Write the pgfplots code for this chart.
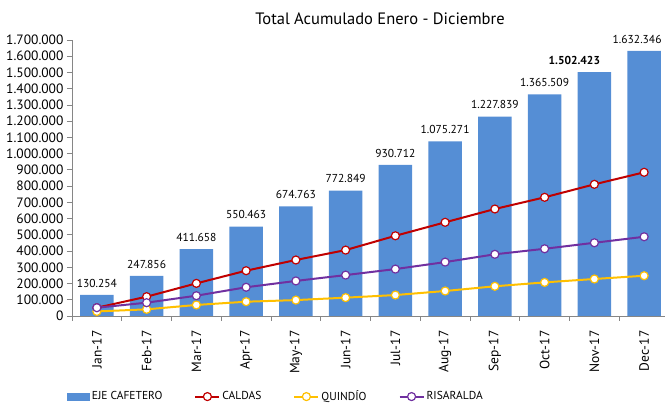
\documentclass[border=0pt]{standalone}
\usepackage{pgfplots}
\pgfplotsset{compat=1.18}
\usepackage{fontspec}
\setmainfont{PT Sans}
\definecolor{barblue}{RGB}{85,142,213}
\definecolor{caldas}{RGB}{192,0,0}
\definecolor{quindio}{RGB}{255,192,0}
\definecolor{risaralda}{RGB}{112,48,160}
\definecolor{axgray}{RGB}{134,134,134}
\pgfplotsset{
  mylinelegend/.style={legend image code/.code={\draw[mark repeat=2,mark phase=2,##1] plot coordinates {(0pt,0pt) (12pt,0pt) (24pt,0pt)};}},
  mybarlegend/.style={legend image code/.code={\fill[barblue] (0pt,-4pt) rectangle (23pt,4pt);}},
  myline/.style={line width=2pt, mark=*, mark size=4pt, mark options={fill=white, line width=1.2pt}, mylinelegend},
}
\begin{document}
\begin{tikzpicture}
\begin{axis}[
  at={(0,0)}, anchor=south west, scale only axis,
  width=597pt, height=276pt,
  xmin=-0.5, xmax=11.5, ymin=0, ymax=1700000,
  axis x line*=bottom, axis y line*=left,
  axis line style={draw=axgray, line width=0.8pt},
  xtick={0,...,11},
  xticklabels={Jan-17,Feb-17,Mar-17,Apr-17,May-17,Jun-17,Jul-17,Aug-17,Sep-17,Oct-17,Nov-17,Dec-17},
  major x tick style={draw=none},
  minor xtick={-0.5,0.5,...,11.5},
  ytick={0,100000,...,1700000},
  scaled y ticks=false,
  /pgf/number format/assume math mode=true,
  /pgf/number format/fixed,
  /pgf/number format/precision=0,
  /pgf/number format/1000 sep={.},
  tick align=outside, major tick length=5pt, minor tick length=5pt,
  tick style={draw=axgray, line width=0.8pt},
  xticklabel shift=6pt,
  x tick label style={rotate=90, anchor=east, font=\fontsize{13.5}{13.5}\selectfont},
  y tick label style={font=\fontsize{13.5}{13.5}\selectfont},
  clip=false,
  legend style={at={(axis description cs:-0.014,-0.292)}, anchor=west, draw=none, fill=none,
    font=\fontsize{11.5}{11.5}\selectfont, legend columns=4,
    /tikz/every even column/.append style={column sep=30pt}},
  legend cell align=left,
]
\addplot[ybar, bar width=0.67, fill=barblue, draw=none,
  nodes near coords, point meta=explicit symbolic,
  every node near coord/.append style={font=\fontsize{11.5}{11.5}\selectfont, text=black, yshift=4pt},
  mybarlegend]
coordinates {
(0,130254)[130.254]
(1,247856)[247.856]
(2,411658)[411.658]
(3,550463)[550.463]
(4,674763)[674.763]
(5,772849)[772.849]
(6,930712)[930.712]
(7,1075271)[1.075.271]
(8,1227839)[1.227.839]
(9,1365509)[1.365.509]
(10,1502423)[\textbf{1.502.423}\hspace*{40pt}]
(11,1632346)[1.632.346\hspace*{14pt}]
};
\addlegendentry{EJE CAFETERO}
\addplot[color=caldas, myline]
coordinates {(0,51000) (1,119000) (2,201000) (3,279000) (4,345000) (5,406000) (6,494000) (7,577000) (8,659000) (9,731000) (10,811000) (11,885000)};
\addlegendentry{CALDAS}
\addplot[color=quindio, myline]
coordinates {(0,28000) (1,41000) (2,68000) (3,88000) (4,98000) (5,113000) (6,129000) (7,154000) (8,183000) (9,207000) (10,228000) (11,248000)};
\addlegendentry{QUINDÍO}
\addplot[color=risaralda, myline]
coordinates {(0,51000) (1,82000) (2,125000) (3,177000) (4,216000) (5,252000) (6,289000) (7,332000) (8,380000) (9,414000) (10,451000) (11,488000)};
\addlegendentry{RISARALDA}
\end{axis}
\node[font=\fontsize{16.5}{16.5}\selectfont] at (308pt,297pt) {Total Acumulado Enero - Diciembre};
\pgfresetboundingbox
\useasboundingbox (-72pt,-90pt) rectangle (593pt,316pt);
\end{tikzpicture}
\end{document}
